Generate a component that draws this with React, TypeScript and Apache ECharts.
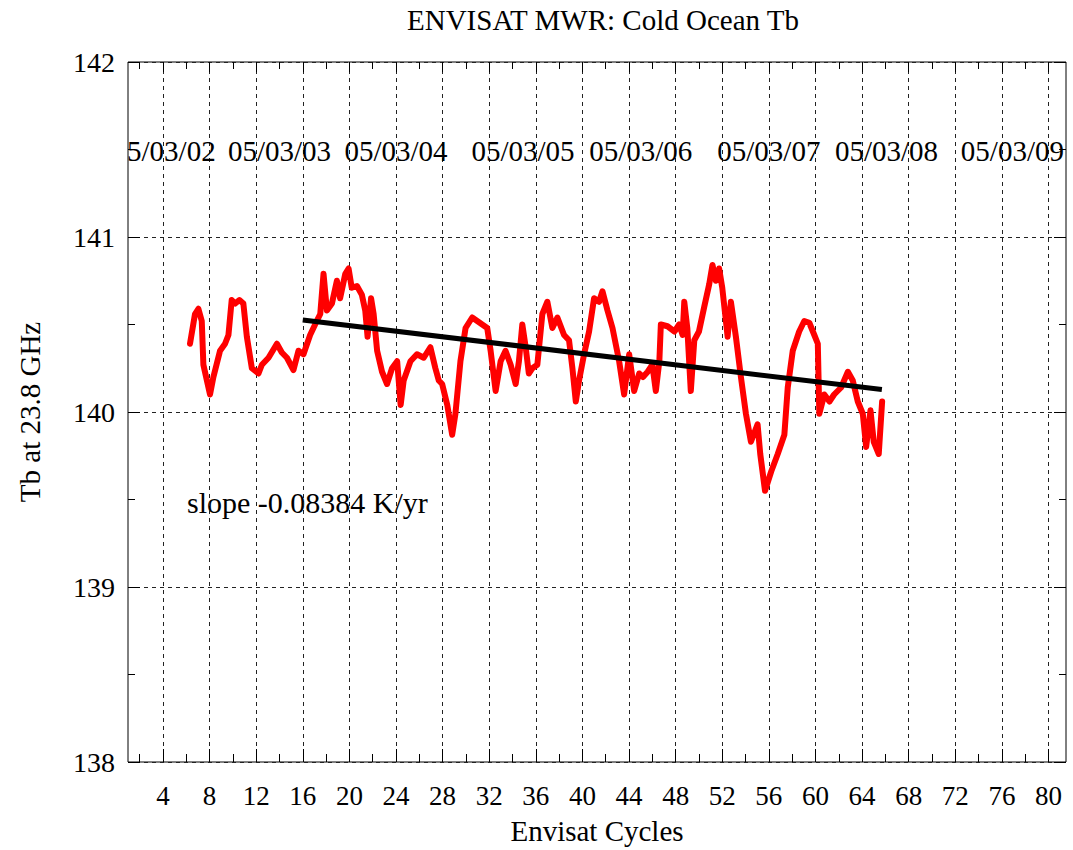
import React, { useEffect, useRef } from "react";
import * as echarts from "echarts";

const cycles = [6.32, 6.75, 7.04, 7.33, 7.47, 8.04, 8.33, 8.9, 9.33, 9.62, 9.9, 10.2, 10.56, 10.9, 11.2, 11.63, 12.2, 12.49, 13.06, 13.78, 14.2, 14.64, 15.2, 15.63, 16.06, 16.63, 17.2, 17.5, 17.78, 18.07, 18.5, 18.93, 19.2, 19.65, 19.93, 20.2, 20.65, 21.07, 21.36, 21.56, 21.86, 22.08, 22.38, 22.8, 23.23, 23.66, 24.1, 24.4, 24.66, 25.24, 25.8, 26.38, 26.95, 27.38, 27.67, 27.96, 28.4, 28.82, 29.1, 29.53, 29.97, 30.54, 30.97, 31.4, 31.83, 32.12, 32.55, 32.98, 33.4, 33.84, 34.27, 34.55, 34.84, 35.13, 35.4, 35.7, 36.13, 36.56, 36.99, 37.42, 37.85, 38.42, 38.85, 39.14, 39.43, 39.71, 40.14, 40.57, 41.0, 41.43, 41.72, 42.15, 42.58, 43.15, 43.58, 44.01, 44.44, 44.87, 45.2, 45.6, 46.0, 46.3, 46.6, 46.73, 47.3, 47.9, 48.3, 48.6, 48.74, 49.0, 49.3, 49.6, 50.0, 50.45, 50.88, 51.16, 51.45, 51.73, 52.0, 52.46, 52.74, 53.17, 53.6, 54.03, 54.46, 55.03, 55.26, 55.67, 56.2, 56.76, 57.33, 57.62, 58.05, 58.6, 59.04, 59.47, 59.9, 60.2, 60.33, 60.76, 61.2, 61.6, 62.2, 62.78, 63.2, 63.63, 64.06, 64.35, 64.72, 65.0, 65.43, 65.72];
const tb = [140.39, 140.56, 140.59, 140.52, 140.27, 140.1, 140.2, 140.35, 140.39, 140.44, 140.64, 140.62, 140.64, 140.62, 140.43, 140.25, 140.22, 140.27, 140.31, 140.39, 140.34, 140.31, 140.24, 140.35, 140.33, 140.44, 140.52, 140.56, 140.79, 140.58, 140.62, 140.75, 140.65, 140.79, 140.82, 140.71, 140.72, 140.67, 140.58, 140.43, 140.65, 140.56, 140.35, 140.23, 140.16, 140.25, 140.29, 140.04, 140.18, 140.29, 140.33, 140.31, 140.37, 140.25, 140.18, 140.16, 140.04, 139.87, 139.99, 140.29, 140.48, 140.54, 140.52, 140.5, 140.48, 140.35, 140.12, 140.29, 140.35, 140.27, 140.16, 140.29, 140.5, 140.37, 140.22, 140.25, 140.27, 140.56, 140.63, 140.48, 140.54, 140.44, 140.41, 140.25, 140.06, 140.18, 140.33, 140.46, 140.65, 140.63, 140.69, 140.58, 140.48, 140.29, 140.1, 140.33, 140.12, 140.22, 140.2, 140.23, 140.27, 140.12, 140.29, 140.5, 140.49, 140.46, 140.5, 140.44, 140.63, 140.48, 140.12, 140.41, 140.46, 140.6, 140.73, 140.84, 140.75, 140.82, 140.71, 140.43, 140.63, 140.43, 140.2, 139.99, 139.83, 139.93, 139.76, 139.55, 139.66, 139.76, 139.87, 140.14, 140.35, 140.46, 140.52, 140.51, 140.44, 140.39, 139.99, 140.1, 140.06, 140.1, 140.14, 140.23, 140.18, 140.06, 139.99, 139.8, 140.01, 139.83, 139.76, 140.06];

const trendX = [16.0, 65.7];
const trendY = [140.526, 140.128];

const dateLabels = ["05/03/02", "05/03/03", "05/03/04", "05/03/05", "05/03/06", "05/03/07", "05/03/08", "05/03/09"];
const dateCycles = [4.1, 14.0, 24.0, 34.9, 45.0, 56.0, 66.1, 76.9];
const dateLabelTb = 141.49;

const majorXTicks = [4, 8, 12, 16, 20, 24, 28, 32, 36, 40, 44, 48, 52, 56, 60, 64, 68, 72, 76, 80];
const minorXTicks = [2, 6, 10, 14, 18, 22, 26, 30, 34, 38, 42, 46, 50, 54, 58, 62, 66, 70, 74, 78];

const FONT = '"Liberation Serif", "Times New Roman", serif';
const X_MIN = 1;
const X_MAX = 81.5;

export default function App() {
  const ref = useRef<HTMLDivElement>(null);
  useEffect(() => {
    if (!ref.current) return;
    const chart = echarts.init(ref.current, null, { renderer: "svg" });
    const dashed = { color: "#222", type: [4, 4] as any, width: 1 };
    const baseX = (extra: any) => ({
      type: "value",
      min: X_MIN,
      max: X_MAX,
      axisLine: { show: false },
      splitLine: { show: false },
      axisLabel: { show: false },
      ...extra,
    });
    const option: any = {
      animation: false,
      backgroundColor: "#fff",
      title: {
        text: "ENVISAT MWR: Cold Ocean Tb",
        left: 598,
        textAlign: "center",
        top: 0,
        textStyle: { fontFamily: FONT, fontSize: 29, fontWeight: "normal", color: "#000" },
      },
      grid: {
        left: 128,
        top: 62,
        right: 7,
        bottom: 87,
        show: true,
        borderColor: "#000",
        borderWidth: 1,
        backgroundColor: "transparent",
      },
      xAxis: [
        baseX({
          position: "bottom",
          name: "Envisat Cycles",
          nameLocation: "middle",
          nameGap: 54,
          nameTextStyle: { fontFamily: FONT, fontSize: 29, color: "#000" },
          axisTick: { show: true, inside: true, length: 13, customValues: majorXTicks, lineStyle: { color: "#000" } },
          axisLabel: { show: true, customValues: majorXTicks, margin: 20, fontFamily: FONT, fontSize: 27, color: "#000" },
          splitLine: { show: true, lineStyle: dashed },
        }),
        baseX({
          position: "bottom",
          axisTick: { show: true, inside: true, length: 8, customValues: minorXTicks, lineStyle: { color: "#000" } },
        }),
        baseX({
          position: "top",
          axisTick: { show: true, inside: true, length: 10, customValues: majorXTicks, lineStyle: { color: "#000" } },
        }),
        baseX({
          position: "top",
          axisTick: { show: true, inside: true, length: 7, customValues: minorXTicks, lineStyle: { color: "#000" } },
        }),
      ],
      yAxis: [
        {
          type: "value",
          position: "left",
          min: 138,
          max: 142,
          interval: 1,
          name: "Tb at 23.8 GHz",
          nameLocation: "middle",
          nameGap: 84,
          nameTextStyle: { fontFamily: FONT, fontSize: 29, color: "#000" },
          axisLine: { show: false },
          axisTick: { show: true, inside: true, length: 12, lineStyle: { color: "#000" } },
          minorTick: { show: true, splitNumber: 2, length: 7, lineStyle: { color: "#000" } },
          axisLabel: { margin: 13, fontFamily: FONT, fontSize: 28, color: "#000" },
          splitLine: { show: true, lineStyle: dashed },
        },
        {
          type: "value",
          position: "right",
          min: 138,
          max: 142,
          interval: 1,
          axisLine: { show: false },
          axisTick: { show: true, inside: true, length: 12, lineStyle: { color: "#000" } },
          minorTick: { show: true, splitNumber: 2, length: 7, lineStyle: { color: "#000" } },
          axisLabel: { show: false },
          splitLine: { show: false },
        },
      ],
      graphic: [
        {
          type: "text",
          left: 187,
          top: 487,
          style: { text: "slope -0.08384 K/yr", font: `30px ${FONT}`, fill: "#000" },
        },
      ],
      series: [
        {
          type: "line",
          xAxisIndex: 0,
          yAxisIndex: 0,
          data: cycles.map((c, i) => [c, tb[i]]),
          showSymbol: false,
          lineStyle: { color: "#ff0000", width: 6, join: "round", cap: "round" },
          z: 3,
        },
        {
          type: "line",
          xAxisIndex: 0,
          yAxisIndex: 0,
          data: trendX.map((c, i) => [c, trendY[i]]),
          showSymbol: false,
          lineStyle: { color: "#000", width: 5 },
          z: 4,
        },
        {
          type: "custom",
          xAxisIndex: 0,
          yAxisIndex: 0,
          clip: true,
          data: dateCycles.map((c) => [c, dateLabelTb]),
          renderItem: (params: any, api: any) => {
            const pt = api.coord([api.value(0), api.value(1)]);
            return {
              type: "text",
              x: pt[0],
              y: pt[1],
              style: {
                text: dateLabels[params.dataIndex],
                fill: "#000",
                font: `29px ${FONT}`,
                align: "center",
                verticalAlign: "middle",
              },
            };
          },
          z: 5,
        },
      ],
    };
    chart.setOption(option);
    return () => chart.dispose();
  }, []);
  return (
    <div
      ref={ref}
      style={{ position: "fixed", left: 0, top: 0, width: 1073, height: 850, background: "#fff" }}
    />
  );
}
